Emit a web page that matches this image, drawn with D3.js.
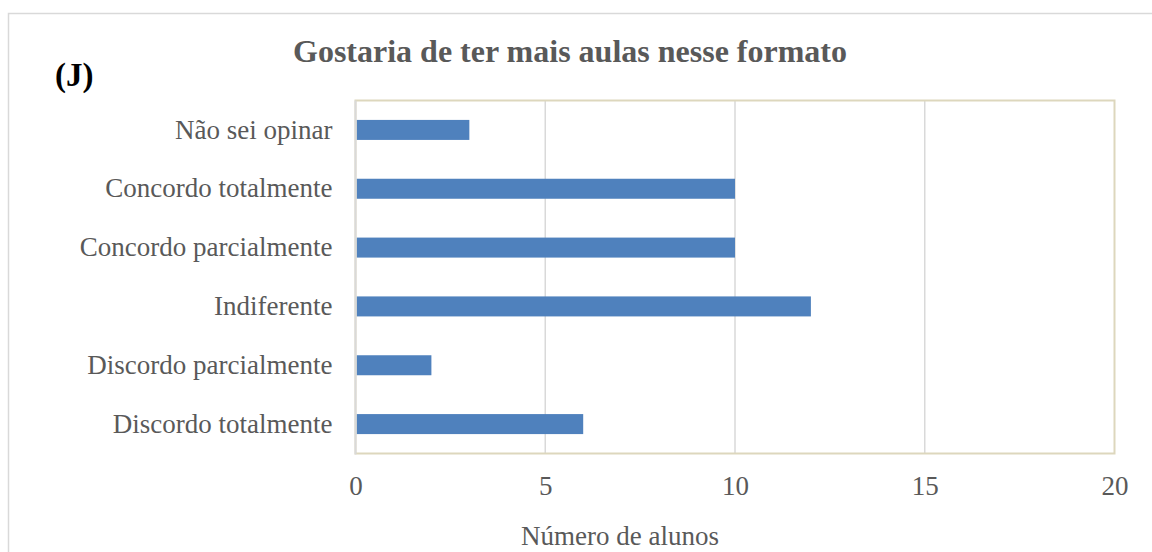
<!DOCTYPE html>
<html>
<head>
<meta charset="utf-8">
<script src="https://cdn.jsdelivr.net/npm/d3@7"></script>
<style>
  html, body { margin: 0; padding: 0; background: #fff; }
  svg { display: block; }
</style>
</head>
<body>
<svg id="chart" width="1152" height="552"></svg>
<script>
// Survey responses: "Gostaria de ter mais aulas nesse formato"
const categories = [
  "Não sei opinar",
  "Concordo totalmente",
  "Concordo parcialmente",
  "Indiferente",
  "Discordo parcialmente",
  "Discordo totalmente"
];
const values = [3, 10, 10, 12, 2, 6];
const xTicks = [0, 5, 10, 15, 20];

const title = "Gostaria de ter mais aulas nesse formato";
const panelLabel = "(J)";
const xTitle = "Número de alunos";

const svg = d3.select("#chart");
const W = 1152, H = 552;
const plot = { left: 355.5, top: 100.5, right: 1114.5, bottom: 453.5 };
const serif = "'Liberation Serif', 'Times New Roman', serif";

// outer frame
svg.append("rect")
  .attr("x", 8.5).attr("y", 13.5)
  .attr("width", W + 20).attr("height", H + 20)
  .attr("fill", "#fff")
  .attr("stroke", "#d9d9d9").attr("stroke-width", 1.5);

const x = d3.scaleLinear().domain([0, 20]).range([plot.left, plot.right]);
const y = d3.scaleBand().domain(categories)
  .range([plot.top, plot.bottom]).paddingInner(0.66).paddingOuter(0.33);

// vertical gridlines
svg.append("g").selectAll("line")
  .data(xTicks.filter(t => t > 0 && t < 20))
  .join("line")
  .attr("x1", d => x(d)).attr("x2", d => x(d))
  .attr("y1", plot.top).attr("y2", plot.bottom)
  .attr("stroke", "#d9d9d9").attr("stroke-width", 1.5);

// bars
svg.append("g").selectAll("rect")
  .data(categories.map((c, i) => ({ c, v: values[i] })))
  .join("rect")
  .attr("x", x(0) + 1)
  .attr("y", d => y(d.c))
  .attr("width", d => x(d.v) - x(0) - 1)
  .attr("height", y.bandwidth())
  .attr("fill", "#4f81bd");

// plot area border
svg.append("rect")
  .attr("x", plot.left).attr("y", plot.top)
  .attr("width", plot.right - plot.left).attr("height", plot.bottom - plot.top)
  .attr("fill", "none")
  .attr("stroke", "#ddd7bd").attr("stroke-width", 2);

// category axis line
svg.append("line")
  .attr("x1", plot.left).attr("x2", plot.left)
  .attr("y1", plot.top).attr("y2", plot.bottom + 1)
  .attr("stroke", "#d9d9d9").attr("stroke-width", 2);

// category labels
const yAxis = d3.axisLeft(y).tickSize(0).tickPadding(23);
const gy = svg.append("g").attr("transform", `translate(${plot.left},0)`).call(yAxis);
gy.select(".domain").remove();
gy.selectAll("text")
  .attr("font-family", serif).attr("font-size", 27).attr("fill", "#595959");

// value axis labels
const xAxis = d3.axisBottom(x).tickValues(xTicks).tickSize(0).tickPadding(22);
const gx = svg.append("g").attr("transform", `translate(0,${plot.bottom})`).call(xAxis);
gx.select(".domain").remove();
gx.selectAll("text")
  .attr("font-family", serif).attr("font-size", 27).attr("fill", "#595959");

// titles
svg.append("text")
  .attr("x", 570).attr("y", 62)
  .attr("text-anchor", "middle")
  .attr("font-family", serif).attr("font-size", 32).attr("font-weight", "bold")
  .attr("fill", "#595959")
  .text(title);

svg.append("text")
  .attr("x", 55).attr("y", 86)
  .attr("font-family", serif).attr("font-size", 33).attr("font-weight", "bold")
  .attr("fill", "#000")
  .text(panelLabel);

svg.append("text")
  .attr("x", 620).attr("y", 545)
  .attr("text-anchor", "middle")
  .attr("font-family", serif).attr("font-size", 27)
  .attr("fill", "#595959")
  .text(xTitle);
</script>
</body>
</html>
